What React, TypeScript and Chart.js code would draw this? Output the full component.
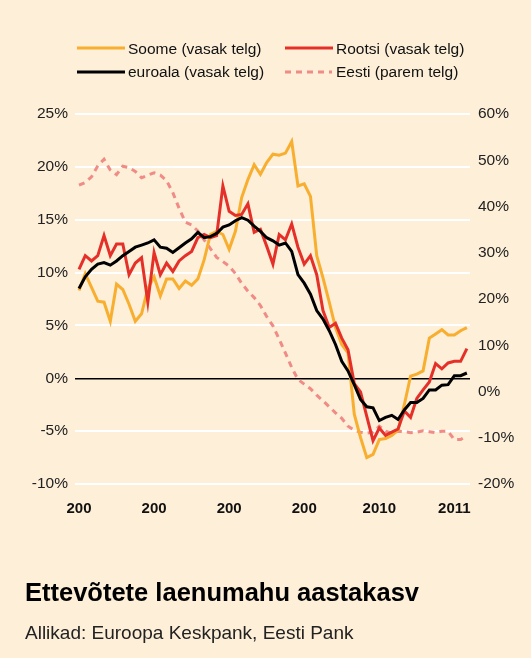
import React, { useEffect, useRef } from 'react';
import { Chart, registerables } from 'chart.js';
Chart.register(...registerables);

// Monthly data, Jan 2006 .. Mar 2011
const yearLabels = ['200', '200', '200', '200', '2010', '2011'];
const yearTickIndex = [0, 12, 24, 36, 48, 60];

const soome = [
  8.3, 9.9, 8.6, 7.3, 7.2, 5.4, 8.9, 8.4, 7.0, 5.4, 6.1, 8.5, 9.6, 7.8, 9.4, 9.4, 8.5, 9.2, 8.8, 9.4,
  11.2, 13.6, 13.9, 13.6, 12.2, 13.9, 17.1, 18.8, 20.2, 19.3, 20.4, 21.2, 21.1, 21.3, 22.4, 18.2, 18.4, 17.2, 11.6, 9.5,
  7.2, 4.8, 3.2, 2.4, -3.4, -5.6, -7.5, -7.2, -5.8, -5.7, -5.4, -4.9, -2.5, 0.2, 0.4, 0.7, 3.8, 4.2, 4.6, 4.1,
  4.1, 4.5, 4.8,
];
const rootsi = [
  10.3, 11.6, 11.1, 11.6, 13.5, 11.6, 12.7, 12.7, 9.8, 10.9, 11.4, 7.2, 11.9, 9.8, 10.9, 10.1, 11.1, 11.6, 12.0, 13.3,
  13.6, 13.3, 13.5, 18.2, 15.8, 15.4, 15.5, 16.5, 13.8, 14.1, 12.5, 10.8, 13.6, 13.1, 14.6, 12.4, 10.8, 11.6, 9.8, 6.4,
  4.8, 5.2, 3.8, 2.7, -0.5, -1.3, -3.6, -5.9, -4.7, -5.4, -5.1, -4.8, -3.1, -3.7, -1.9, -1.1, -0.35, 1.4, 0.9, 1.45,
  1.6, 1.6, 2.8,
];
const euroala = [
  8.5, 9.6, 10.3, 10.8, 10.95, 10.7, 11.1, 11.6, 12.0, 12.4, 12.6, 12.8, 13.1, 12.4, 12.3, 11.9, 12.35, 12.8, 13.2, 13.8,
  13.3, 13.4, 13.7, 14.3, 14.5, 14.9, 15.2, 14.95, 14.4, 13.9, 13.3, 13.0, 12.6, 12.8, 12.0, 9.8, 9.0, 7.95, 6.4, 5.6,
  4.5, 3.2, 1.6, 0.7, -0.6, -2.0, -2.7, -2.8, -4.0, -3.7, -3.5, -3.9, -3.0, -2.3, -2.3, -1.9, -1.1, -1.1, -0.65, -0.6,
  0.25, 0.25, 0.5,
];
const eesti = [
  44.6, 45.2, 46.4, 48.8, 50.2, 47.9, 46.9, 48.7, 48.4, 47.6, 46.2, 46.8, 47.3, 46.8, 45.6, 43.0, 39.6, 36.6, 36.0, 34.7,
  32.8, 30.9, 29.0, 28.1, 27.1, 25.5, 23.4, 21.7, 20.3, 18.6, 16.2, 14.2, 11.3, 8.3, 5.2, 2.6, 1.6, 0.6, -0.8, -2.0,
  -3.3, -4.6, -5.8, -7.5, -8.4, -8.8, -9.0, -8.8, -7.5, -8.6, -9.0, -8.6, -8.7, -8.9, -8.8, -8.5, -8.7, -8.9, -8.6, -8.6,
  -10.4, -10.4, -9.6,
];

const seriesNames = ['Soome (vasak telg)', 'Rootsi (vasak telg)', 'euroala (vasak telg)', 'Eesti (parem telg)'];

const ORANGE = '#F8AE2F';
const RED = '#E5302A';
const BLACK = '#000000';
const PINK = '#F08B86';
const BG = '#FDEFD8';
const FONT = '"Liberation Sans", Arial, Helvetica, sans-serif';

function LegendItem(props: { left: number; lineY: number; baseTop: number; color: string; dashed?: boolean; label: string }) {
  const { left, lineY, baseTop, color, dashed, label } = props;
  return (
    <>
      <svg style={{ position: 'absolute', left, top: lineY - 3, width: 50, height: 6 }} width={50} height={6}>
        <line x1={0} y1={3} x2={dashed ? 47 : 48} y2={3} stroke={color} strokeWidth={3} strokeDasharray={dashed ? '6 5' : undefined} />
      </svg>
      <div style={{ position: 'absolute', left: left + 51, top: baseTop, fontFamily: FONT, fontSize: 15.5, lineHeight: '18px', color: '#111', whiteSpace: 'nowrap' }}>
        {label}
      </div>
    </>
  );
}

export default function App() {
  const ref = useRef<HTMLCanvasElement>(null);
  useEffect(() => {
    const pts = (arr: number[]) => arr.map((y, i) => ({ x: i, y }));
    const tickFont = { family: FONT, size: 15.5 };
    const chart = new Chart(ref.current as HTMLCanvasElement, {
      type: 'line',
      data: {
        datasets: [
          { label: seriesNames[2], data: pts(euroala), borderColor: BLACK, yAxisID: 'y', order: 0 },
          { label: seriesNames[1], data: pts(rootsi), borderColor: RED, yAxisID: 'y', order: 1 },
          { label: seriesNames[0], data: pts(soome), borderColor: ORANGE, yAxisID: 'y', order: 2 },
          { label: seriesNames[3], data: pts(eesti), borderColor: PINK, borderDash: [6, 5], yAxisID: 'y1', order: 3 },
        ],
      },
      options: {
        animation: false,
        responsive: false,
        maintainAspectRatio: false,
        layout: { padding: { top: 114, bottom: 134, left: 0, right: 0 } },
        elements: { point: { radius: 0 }, line: { borderWidth: 3, tension: 0 } },
        plugins: { legend: { display: false }, tooltip: { enabled: false } },
        scales: {
          x: {
            type: 'linear',
            min: -0.64,
            max: 62.5,
            grid: { display: false, drawTicks: false },
            border: { display: false },
            afterBuildTicks: (s: any) => {
              s.ticks = yearTickIndex.map((v) => ({ value: v }));
            },
            afterFit: (s: any) => {
              s.height = 40;
            },
            ticks: {
              autoSkip: false,
              maxRotation: 0,
              padding: 16,
              color: '#111',
              font: { family: FONT, size: 15, weight: 'bold' },
              callback: (v: any) => {
                const k = yearTickIndex.indexOf(Number(v));
                return k >= 0 ? yearLabels[k] : '';
              },
            },
          },
          y: {
            position: 'left',
            min: -10,
            max: 25,
            ticks: { stepSize: 5, padding: 7, color: '#222', font: tickFont, callback: (v: any) => v + '%' },
            grid: {
              drawTicks: false,
              color: (c: any) => (c.tick && c.tick.value === 0 ? '#000000' : '#FFFFFF'),
              lineWidth: (c: any) => (c.tick && c.tick.value === 0 ? 1.5 : 2),
            },
            border: { display: false },
            afterFit: (s: any) => {
              s.width = 75;
            },
          },
          y1: {
            position: 'right',
            min: -20,
            max: 60,
            ticks: { stepSize: 10, padding: 8, color: '#222', font: tickFont, callback: (v: any) => v + '%' },
            grid: { display: false, drawTicks: false },
            border: { display: false },
            afterFit: (s: any) => {
              s.width = 61;
            },
          },
        },
      } as any,
    });
    return () => chart.destroy();
  }, []);

  return (
    <div style={{ position: 'fixed', left: 0, top: 0, width: 531, height: 658, background: BG, overflow: 'hidden' }}>
      <canvas ref={ref} width={531} height={658} style={{ position: 'absolute', left: 0, top: 0, width: 531, height: 658, display: 'block' }} />
      <LegendItem left={77} lineY={47.5} baseTop={39.6} color={ORANGE} label={seriesNames[0]} />
      <LegendItem left={285} lineY={47.5} baseTop={39.6} color={RED} label={seriesNames[1]} />
      <LegendItem left={77} lineY={71.5} baseTop={63.2} color={BLACK} label={seriesNames[2]} />
      <LegendItem left={285} lineY={71.5} baseTop={63.2} color={PINK} dashed label={seriesNames[3]} />
      <div style={{ position: 'absolute', left: 25, top: 577, fontFamily: FONT, fontWeight: 'bold', fontSize: 25.5, lineHeight: '30px', color: '#000', whiteSpace: 'nowrap' }}>
        Ettevõtete laenumahu aastakasv
      </div>
      <div style={{ position: 'absolute', left: 25, top: 622.4, fontFamily: FONT, fontSize: 19, lineHeight: '22px', color: '#222', whiteSpace: 'nowrap' }}>
        Allikad: Euroopa Keskpank, Eesti Pank
      </div>
    </div>
  );
}
